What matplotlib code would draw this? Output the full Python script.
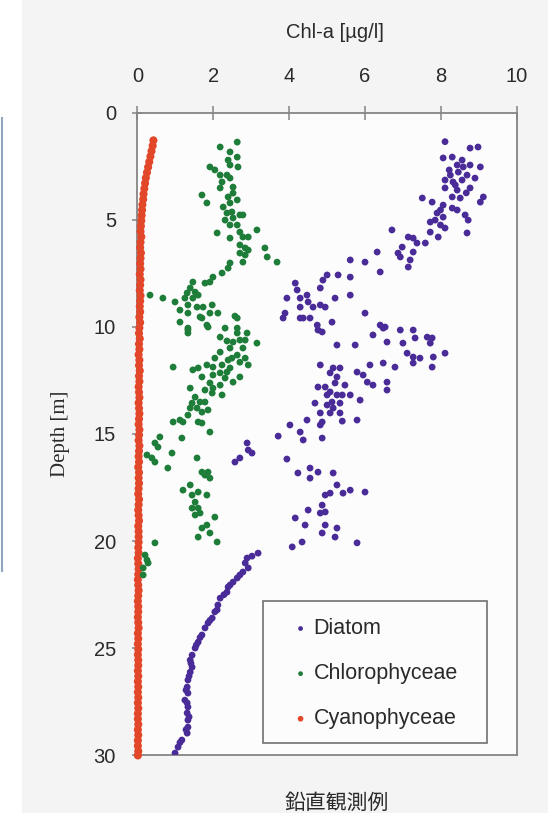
#!/usr/bin/env python3
"""
plot.py
Vertical Chl-a profile by phytoplankton group (鉛直観測例).
"""

import matplotlib
matplotlib.use("Agg")
import matplotlib.pyplot as plt
from matplotlib.lines import Line2D
from matplotlib.patches import Rectangle

# ---- data (Chl-a in ug/l, depth in m) ----
diatom_chl = [
    8.11, 8.77, 8.98, 8.06, 8.30, 8.56, 8.43, 8.59, 8.77, 9.04, 8.22, 8.25, 8.46, 8.69, 8.90,
    8.11, 8.32, 8.56, 8.38, 8.11, 8.43, 8.77, 8.67, 8.30, 8.51, 9.12, 9.04, 7.51, 7.77, 8.06,
    8.30, 8.43, 7.99, 7.90, 8.06, 8.64, 8.72, 7.85, 7.72, 7.99, 8.11, 8.69, 7.72, 7.93, 6.71,
    7.14, 7.27, 7.37, 7.59, 6.98, 6.87, 7.27, 7.19, 7.14, 6.93, 6.32, 6.00, 5.61, 6.40, 5.61,
    5.61, 5.29, 5.21, 5.00, 4.89, 4.82, 4.16, 4.21, 3.94, 4.29, 4.47, 4.50, 3.89, 4.29, 4.63,
    4.82, 4.95, 4.37, 4.55, 4.74, 5.13, 6.00, 6.40, 6.53, 6.93, 7.27,
    3.84, 4.29, 4.87, 4.76, 5.26, 5.74, 6.21, 6.48, 6.58, 7.32, 7.64, 7.72, 7.77, 7.00, 7.11,
    7.27, 7.45, 7.27, 7.80, 7.77, 8.11, 6.79, 6.48, 6.58, 6.58, 6.13, 5.95, 6.06, 6.21, 5.79,
    5.87, 5.79, 5.40, 4.82, 5.16, 5.34, 5.08, 5.26, 4.76, 4.95, 5.00, 5.26, 5.40, 5.61, 5.13,
    5.16, 5.34, 5.08, 4.68, 4.82, 4.87, 4.82, 4.47, 4.02, 4.29, 4.37, 4.87, 3.71, 5.08, 5.47,
    5.21, 5.00, 5.34,
    2.89, 2.92, 3.02, 2.70, 2.57,
    3.94, 4.23, 4.55, 4.55, 4.76, 5.16, 5.26, 5.42, 5.61, 6.00, 4.95, 5.08, 4.87, 4.95, 4.82,
    4.50, 4.16, 4.42, 4.95, 5.26, 4.87, 5.21, 4.34, 4.08, 5.79,
    3.18, 3.02, 2.89, 2.84, 2.92, 2.78, 2.70, 2.63, 2.52, 2.44, 2.39, 2.36, 2.28, 2.18, 2.12,
    2.10, 2.04, 1.97, 1.91, 1.86, 1.78, 1.70, 1.65, 1.60, 1.55, 1.52, 1.44, 1.39, 1.41, 1.44,
    1.39, 1.36, 1.33, 1.31, 1.28, 1.33, 1.25, 1.31, 1.33, 1.31, 1.36, 1.33, 1.33, 1.28, 1.31,
    1.17, 1.12, 1.07, 0.99,
]
diatom_depth = [
    1.36, 1.66, 1.61, 2.12, 2.08, 2.22, 2.45, 2.54, 2.45, 2.54, 2.68, 2.92, 2.78, 2.92, 3.06,
    3.15, 3.24, 3.15, 3.38, 3.52, 3.62, 3.52, 3.75, 3.94, 3.99, 3.94, 4.18, 3.99, 4.18, 4.32,
    4.46, 4.55, 4.55, 4.69, 4.88, 4.78, 5.02, 5.02, 5.11, 5.25, 5.39, 5.62, 5.58, 5.81, 5.48,
    5.81, 5.86, 6.09, 6.09, 6.28, 6.56, 6.51, 6.88, 7.21, 6.74, 6.51, 6.98, 6.88, 7.44, 7.68,
    8.52, 7.58, 8.66, 7.58, 7.82, 8.19, 7.96, 8.28, 8.66, 8.66, 8.52, 8.84, 9.36, 9.08, 9.08,
    8.98, 9.08, 9.59, 9.59, 9.92, 9.78, 9.36, 9.92, 10.01, 10.15, 10.15,
    9.59, 9.59, 10.24, 10.15, 10.85, 10.85, 10.38, 10.06, 10.71, 10.52, 10.48, 10.76, 10.52, 10.76, 11.23,
    11.41, 11.46, 11.69, 11.41, 11.88, 11.23, 11.88, 11.69, 12.58, 12.95, 11.78, 12.25, 12.58, 12.72, 12.11,
    13.42, 14.35, 14.40, 11.78, 11.92, 11.92, 12.15, 12.34, 12.81, 12.81, 13.18, 13.18, 13.18, 13.18, 13.51,
    13.79, 13.56, 14.02, 13.56, 14.02, 14.44, 14.58, 14.35, 14.58, 14.91, 15.28, 15.19, 15.10, 13.04, 12.72,
    12.62, 13.65, 14.02,
    15.42, 15.75, 15.89, 16.12, 16.31,
    16.17, 16.82, 16.59, 17.06, 16.78, 16.82, 17.38, 17.76, 17.62, 17.71, 17.85, 17.76, 18.32, 18.64, 18.69,
    18.55, 18.92, 19.25, 19.25, 19.39, 19.62, 19.81, 20.04, 20.27, 20.08,
    20.56, 20.70, 20.79, 21.02, 21.25, 21.44, 21.58, 21.72, 21.91, 22.05, 22.14, 22.38, 22.50, 22.66, 22.98,
    23.21, 23.30, 23.59, 23.70, 23.82, 24.05, 24.38, 24.50, 24.71, 24.85, 24.99, 25.32, 25.55, 25.70, 25.88,
    26.11, 26.30, 26.48, 26.81, 26.95, 27.09, 27.42, 27.55, 27.74, 28.02, 28.20, 28.35, 28.68, 28.80, 28.96,
    29.28, 29.40, 29.61, 29.89,
]

chloro_chl = [
    2.63, 2.18, 2.44, 2.63, 2.39, 2.65, 2.44, 1.91, 2.04, 2.18, 2.36, 2.44, 2.23, 2.18, 2.52,
    2.52, 2.39, 2.63, 2.44, 1.70, 1.83, 2.26, 2.36, 2.49, 2.31, 2.52, 2.70, 2.78, 2.44, 2.63,
    2.70, 2.78, 2.92, 2.10, 3.15, 2.44, 2.70, 2.84, 2.92, 2.70, 2.84, 2.78, 3.36, 3.42, 3.68,
    2.44, 2.39, 2.23, 1.99, 1.91, 1.46, 1.39, 1.52, 1.31, 1.25, 1.46, 1.60, 1.78, 0.33, 0.67,
    0.99, 1.33, 1.57, 1.73, 1.97, 1.33, 1.65, 1.91, 2.12, 1.12, 1.83, 1.33, 1.12, 1.33, 1.33,
    1.70, 1.86, 2.57, 2.63, 2.18, 2.89, 3.15, 2.63, 2.63, 2.36, 2.52, 2.70, 2.78, 2.44, 2.18,
    2.63, 2.84, 2.92, 2.39, 2.23, 1.99, 1.83, 1.60, 1.46, 1.70, 1.99, 2.18, 2.36, 0.94, 2.70,
    2.52, 2.18, 1.91, 1.78, 2.23, 1.99, 1.39, 1.52, 1.44, 1.65, 1.57, 1.70, 1.86, 1.33, 1.12,
    1.20, 1.60, 1.70, 1.91, 0.94, 1.17, 0.59, 0.46, 0.54, 0.25, 0.38, 0.46, 0.91, 0.80, 1.57,
    1.70, 1.86, 1.78, 1.91, 1.20, 1.39, 1.44, 1.60, 1.83, 1.52, 1.44, 1.60, 1.65, 1.52, 2.04,
    1.83, 1.70, 1.91, 1.60, 2.10, 0.46, 0.20, 0.25, 0.28, 0.15, 0.15,
    2.31, 2.49, 2.70, 2.04, 2.31, 1.97, 1.78, 1.39, 2.44, 2.84,
]
chloro_depth = [
    1.38, 1.61, 1.84, 2.08, 2.22, 2.54, 2.45, 2.54, 2.68, 2.92, 2.92, 3.06, 3.24, 3.52, 3.48,
    3.76, 3.94, 4.08, 4.22, 3.85, 4.22, 4.41, 4.69, 4.64, 5.02, 4.92, 4.78, 4.78, 5.25, 5.25,
    5.58, 5.81, 5.81, 5.62, 5.48, 5.86, 6.18, 6.32, 6.42, 6.56, 6.65, 6.98, 6.32, 6.74, 6.98,
    7.02, 7.26, 7.49, 7.68, 7.91, 7.91, 8.19, 8.38, 8.42, 8.66, 8.66, 8.52, 7.96, 8.52, 8.66,
    8.84, 8.98, 9.08, 9.08, 8.98, 9.36, 9.54, 9.36, 9.36, 9.78, 9.92, 10.06, 9.22, 10.15, 10.29,
    9.59, 10.01, 9.50, 10.29, 10.48, 10.29, 10.76, 9.59, 10.06, 10.66, 10.71, 10.62, 10.99, 10.99, 11.18,
    11.32, 11.46, 11.78, 11.55, 11.78, 11.88, 11.78, 11.92, 12.01, 12.34, 12.25, 12.15, 12.11, 11.88, 12.34,
    12.58, 12.72, 12.62, 12.95, 13.18, 12.86, 12.86, 13.28, 13.56, 13.51, 13.79, 13.98, 13.88, 14.12, 14.35,
    14.44, 14.44, 14.49, 14.91, 14.44, 15.19, 15.14, 15.42, 15.61, 15.98, 16.12, 16.31, 15.89, 16.59, 16.12,
    16.78, 16.78, 16.92, 17.06, 17.62, 17.38, 17.85, 17.71, 17.85, 18.18, 18.46, 18.46, 18.69, 18.78, 18.88,
    19.25, 19.39, 19.62, 19.81, 20.04, 20.08, 20.65, 20.88, 21.02, 21.25, 21.58,
    10.06, 11.46, 11.65, 11.46, 12.39, 13.09, 13.51, 13.79, 11.92, 10.62,
]

cyano_depth = [
    1.3, 1.55, 1.8, 2.05, 2.3, 2.55, 2.8, 3.05, 3.3, 3.55, 3.8, 4.05, 4.3, 4.55, 4.8, 5.05,
    5.3, 5.55, 5.8, 6.05, 6.3, 6.55, 6.8, 7.05, 7.3, 7.55, 7.8, 8.05, 8.3, 8.55, 8.8, 9.05,
    9.3, 9.55, 9.8, 10.05, 10.3, 10.55, 10.8, 11.05, 11.3, 11.55, 11.8, 12.05, 12.3, 12.55,
    12.8, 13.05, 13.3, 13.55, 13.8, 14.05, 14.3, 14.55, 14.8, 15.05, 15.3, 15.55, 15.8, 16.05,
    16.3, 16.55, 16.8, 17.05, 17.3, 17.55, 17.8, 18.05, 18.3, 18.55, 18.8, 19.05, 19.3, 19.55,
    19.8, 20.05, 20.3, 20.55, 20.8, 21.05, 21.3, 21.55, 21.8, 22.05, 22.3, 22.55, 22.8, 23.05,
    23.3, 23.55, 23.8, 24.05, 24.3, 24.55, 24.8, 25.05, 25.3, 25.55, 25.8, 26.05, 26.3, 26.55,
    26.8, 27.05, 27.3, 27.55, 27.8, 28.05, 28.3, 28.55, 28.8, 29.05, 29.3, 29.55, 29.8, 30.0,
]
cyano_chl = [
    0.42, 0.40, 0.37, 0.34, 0.31, 0.28, 0.25, 0.22, 0.20, 0.18, 0.16, 0.15, 0.13, 0.12, 0.11, 0.10,
    0.09, 0.08, 0.10, 0.08, 0.07, 0.09, 0.08, 0.07, 0.08, 0.06, 0.08, 0.07, 0.06, 0.08, 0.07, 0.06,
    0.07, 0.05, 0.07,
    0.05, 0.04, 0.06, 0.04, 0.05, 0.03, 0.05, 0.04, 0.06, 0.04, 0.05, 0.03, 0.04, 0.05, 0.03,
    0.04, 0.05, 0.04, 0.03, 0.05, 0.04, 0.03, 0.05, 0.04, 0.03, 0.04, 0.02, 0.04, 0.03, 0.04,
    0.03, 0.02, 0.04, 0.03, 0.02, 0.03, 0.04, 0.02, 0.03, 0.03,
    0.03, 0.02, 0.03, 0.01, 0.02, 0.03, 0.02, 0.01, 0.02, 0.03, 0.02, 0.01, 0.02, 0.02, 0.01,
    0.02, 0.03, 0.01, 0.02, 0.01, 0.02, 0.01, 0.02, 0.02, 0.01, 0.02, 0.01, 0.02, 0.01, 0.02,
    0.01, 0.02, 0.01, 0.01, 0.02, 0.01, 0.02, 0.01, 0.01, 0.02,
    0.01,
]

series_names = ["Diatom", "Chlorophyceae", "Cyanophyceae"]
x_ticks = [0, 2, 4, 6, 8, 10]
y_ticks = [0, 5, 10, 15, 20, 25, 30]

COLORS = {"Diatom": "#4a2c98", "Chlorophyceae": "#1f7d3a", "Cyanophyceae": "#e2472a"}
FRAME = "#858585"
TEXT = "#2a2a2a"


def plot_profile(save_path: str = "out.png") -> None:
    """
    Draws the three Chl-a depth profiles with inverted depth axis.
    """
    plt.rcParams["font.family"] = ["Liberation Sans", "DejaVu Sans"]

    fig = plt.figure(figsize=(5.48, 8.13), dpi=100, facecolor="white")

    # grey slide background, white strip + neighbouring box edge on the left
    fig.add_artist(Rectangle((22 / 548, 0), 1, 1, transform=fig.transFigure,
                             facecolor="#f4f4f4", edgecolor="none", zorder=-10))
    fig.add_artist(Line2D([1.5 / 548, 1.5 / 548], [1 - 118 / 813, 1 - 571 / 813],
                          transform=fig.transFigure, color="#8fa6bd", lw=1.5))

    ax = fig.add_axes([0.2509, 0.0708, 0.6920, 0.7908])
    ax.set_facecolor("#fcfcfc")

    sc_c = ax.scatter(cyano_chl, cyano_depth, s=34, color=COLORS["Cyanophyceae"],
                      edgecolors="none", clip_on=False, zorder=3)
    sc_g = ax.scatter(chloro_chl, chloro_depth, s=24, color=COLORS["Chlorophyceae"],
                      edgecolors="none", zorder=4)
    sc_d = ax.scatter(diatom_chl, diatom_depth, s=24, color=COLORS["Diatom"],
                      edgecolors="none", zorder=5)

    ax.set_xlim(0, 10)
    ax.set_ylim(30, 0)
    ax.set_xticks(x_ticks)
    ax.set_yticks(y_ticks)
    ax.xaxis.tick_top()

    for sp in ax.spines.values():
        sp.set_color(FRAME)
        sp.set_linewidth(1.3)
    ax.tick_params(axis="x", direction="inout", length=10, width=1.1, color=FRAME,
                   labelsize=14.5, labelcolor=TEXT, pad=14)
    ax.tick_params(axis="y", direction="inout", length=7, width=1.1, color=FRAME,
                   labelsize=14.5, labelcolor=TEXT, pad=12)

    ax.set_ylabel("Depth [m]", fontsize=15, color=TEXT, family="Liberation Serif",
                  labelpad=17)
    fig.text(335 / 548, 1 - 33 / 813, "Chl-a [µg/l]", ha="center", va="center",
             fontsize=14.5, color=TEXT)

    # legend: own frame, frameless legend placed inside it
    ax.add_patch(Rectangle((0.331, 0.019), 0.591, 0.221, transform=ax.transAxes,
                           facecolor="#fcfcfc", edgecolor="#707070", lw=1.2, zorder=6))
    leg = ax.legend([sc_d, sc_g, sc_c], series_names, loc="center left",
                    bbox_to_anchor=(0.413, 0.127), fontsize=15.5, markerscale=0.7,
                    handlelength=0.6, handletextpad=0.3, labelspacing=1.12,
                    borderpad=0, borderaxespad=0, frameon=False)
    leg.set_zorder(7)
    for t in leg.get_texts():
        t.set_color(TEXT)

    fig.text(337 / 548, 1 - 803 / 813, "鉛直観測例", ha="center", va="center",
             fontsize=15, color=TEXT, family=["Noto Sans CJK JP", "DejaVu Sans"])

    fig.savefig(save_path, dpi=100, facecolor=fig.get_facecolor())
    plt.close(fig)


if __name__ == "__main__":
    plot_profile("out.png")
